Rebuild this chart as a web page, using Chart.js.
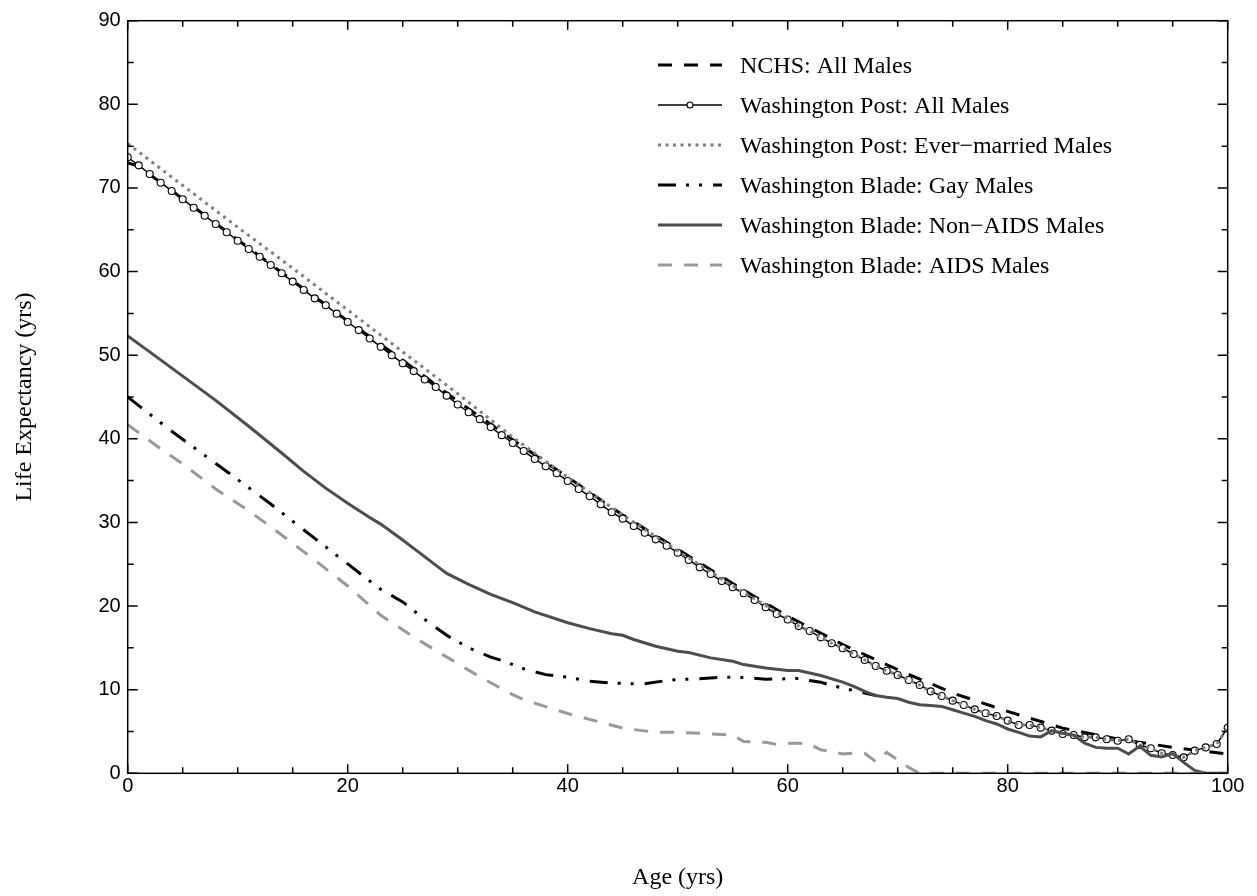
<!DOCTYPE html>
<html>
<head>
<meta charset="utf-8">
<script src="https://cdn.jsdelivr.net/npm/chart.js@4.4.1/dist/chart.umd.min.js"></script>
<style>
  html, body { margin: 0; padding: 0; background: #ffffff; }
  canvas { display: block; }
</style>
</head>
<body>
<canvas id="chart" width="1257" height="896"></canvas>
<script>
// ---- Life expectancy by age (years) ----

// NCHS life table, all males
const nchsAges  = [0, 1, 5, 10, 15, 20, 25, 30, 35, 40, 45, 50, 55, 60, 65, 70, 75, 80, 85, 90, 95, 100];
const nchsMales = [73.0, 72.6, 68.7, 63.8, 58.9, 54.1, 49.4, 44.5, 39.9, 35.4, 30.9, 26.8, 22.7, 18.8, 15.4, 12.4, 9.6, 7.4, 5.4, 4.1, 3.1, 2.3];

// Washington Post, all males (one value per year of age)
const wpAges = [0,1,2,3,4,5,6,7,8,9,10,11,12,13,14,15,16,17,18,19,20,21,22,23,24,25,26,27,28,29,30,31,32,33,34,35,36,37,38,39,40,41,42,43,44,45,46,47,48,49,50,51,52,53,54,55,56,57,58,59,60,61,62,63,64,65,66,67,68,69,70,71,72,73,74,75,76,77,78,79,80,81,82,83,84,85,86,87,88,89,90,91,92,93,94,95,96,97,98,99,100];
const wpAllMales = [
  73.67, 72.7, 71.67, 70.63, 69.64, 68.64, 67.64, 66.68, 65.69, 64.7,
  63.69, 62.7, 61.78, 60.79, 59.79, 58.8, 57.8, 56.8, 55.97, 54.97,
  53.97, 53.0, 52.0, 51.0, 50.0, 49.03, 48.1, 47.1, 46.2, 45.16,
  44.1, 43.17, 42.35, 41.4, 40.44, 39.5, 38.54, 37.59, 36.71, 35.88,
  34.96, 34.0, 33.13, 32.17, 31.21, 30.45, 29.58, 28.77, 27.98, 27.22,
  26.38, 25.51, 24.63, 23.83, 23.0, 22.24, 21.53, 20.73, 19.85, 19.05,
  18.4, 17.6, 17.02, 16.26, 15.55, 14.95, 14.27, 13.55, 12.83, 12.27,
  11.76, 11.16, 10.56, 9.8, 9.25, 8.69, 8.17, 7.65, 7.18, 6.85,
  6.3, 5.78, 5.78, 5.46, 5.1, 4.7, 4.58, 4.3, 4.3, 4.07,
  3.9, 4.07, 3.39, 2.99, 2.39, 2.19, 1.91, 2.71, 3.1, 3.5, 5.45
];

// Washington Post, ever-married males
const marriedAges  = [0, 5, 10, 15, 20, 25, 30, 35, 40, 45, 50, 55, 60, 61, 62, 63, 64, 65, 66, 67, 68, 69, 70, 71, 72, 73, 74, 75, 76, 77, 78, 79, 80, 81, 82, 83, 84, 85, 86, 87, 88, 89, 90, 91, 92, 93, 94, 95, 96, 97, 98, 99, 100];
const marriedMales = [75.3, 70.3, 65.3, 60.4, 55.4, 50.4, 45.4, 40.2, 35.4, 30.9, 26.6, 22.4, 18.5, 17.6, 17.02, 16.26, 15.55, 14.95, 14.27, 13.55, 12.83, 12.27, 11.76, 11.16, 10.56, 9.8, 9.25, 8.69, 8.17, 7.65, 7.18, 6.85, 6.3, 5.78, 5.78, 5.46, 5.1, 4.7, 4.58, 4.3, 4.3, 4.07, 3.9, 4.07, 3.39, 2.99, 2.39, 2.19, 1.91, 2.71, 3.1, 3.5, 5.45];

// Washington Blade, gay males
const gayAges  = [0, 4, 9, 13, 17, 22, 23, 25, 27, 29, 31, 33, 34, 36, 38, 40, 42, 44, 46, 47, 49, 50, 52, 54, 56, 58, 60, 61, 62, 63, 64, 65, 66, 67, 68];
const gayMales = [45.0, 40.9, 36.1, 32.2, 28.1, 23.0, 22.0, 20.5, 18.4, 16.5, 15.0, 13.9, 13.5, 12.5, 11.8, 11.5, 11.0, 10.8, 10.7, 10.7, 11.1, 11.2, 11.3, 11.5, 11.45, 11.25, 11.3, 11.35, 11.1, 10.9, 10.5, 10.2, 9.9, 9.6, 9.3];

// Washington Blade, non-AIDS males
const nonAidsAges  = [0, 2, 5, 8, 11, 14, 16, 18, 20, 22, 23, 25, 26, 28, 29, 31, 33, 35, 37, 40, 42, 44, 45, 46, 48, 50, 51, 53, 55, 56, 58, 60, 61, 62, 63, 65, 66, 67, 68, 69, 70, 71, 72, 73, 74, 75, 76, 77, 78, 79, 80, 81, 82, 83, 84, 85, 86, 87, 88, 89, 90, 91, 92, 93, 94, 95, 96, 97, 98, 99, 100];
const nonAidsMales = [52.3, 50.4, 47.5, 44.6, 41.5, 38.3, 36.1, 34.1, 32.3, 30.6, 29.8, 27.9, 26.9, 24.9, 23.9, 22.6, 21.4, 20.4, 19.3, 18.0, 17.3, 16.7, 16.5, 16.0, 15.2, 14.6, 14.45, 13.8, 13.4, 13.0, 12.6, 12.3, 12.3, 12.0, 11.7, 10.9, 10.4, 9.8, 9.3, 9.1, 8.95, 8.5, 8.2, 8.1, 8.0, 7.6, 7.2, 6.8, 6.3, 5.9, 5.3, 4.9, 4.45, 4.35, 5.1, 4.8, 4.55, 3.6, 3.1, 3.0, 3.0, 2.3, 3.25, 2.15, 1.95, 2.35, 1.3, 0.35, 0, 0, 0];

// Washington Blade, AIDS males
const aidsAges  = [0, 3, 5, 8, 11, 14, 17, 20, 23, 26, 29, 32, 34, 35, 36, 38, 40, 42, 45, 48, 50, 52, 55, 56, 57, 58, 59, 60, 61, 62, 63, 64, 65, 66, 67, 68, 69, 70, 71, 72, 100];
const aidsMales = [41.7, 38.8, 37.0, 34.0, 31.4, 28.5, 25.5, 22.4, 18.9, 16.3, 13.9, 11.55, 10.1, 9.4, 8.8, 7.97, 7.15, 6.45, 5.4, 4.9, 4.9, 4.8, 4.55, 3.8, 3.75, 3.7, 3.45, 3.6, 3.6, 3.5, 2.8, 2.6, 2.3, 2.4, 2.4, 1.4, 2.5, 1.6, 0.7, 0, 0];

// Axis ranges and labelled ticks
const xRange = [0, 100];
const yRange = [0, 90];
const xTickStep = 20;
const yTickStep = 10;

// ---- Styling ----
const SERIF = "'Liberation Serif', 'Times New Roman', serif";
const SANS  = "'Liberation Sans', Arial, sans-serif";

function pts(xs, ys) { return xs.map((x, i) => ({ x: x, y: ys[i] })); }

const datasets = [
  { label: 'NCHS: All Males', data: pts(nchsAges, nchsMales),
    borderColor: '#000000', borderWidth: 3, borderDash: [14, 12], pointRadius: 0, order: 6 },
  { label: 'Washington Post: All Males', data: pts(wpAges, wpAllMales),
    borderColor: '#000000', borderWidth: 1.5, pointRadius: 3.5, pointBorderWidth: 1.1,
    pointBackgroundColor: '#ffffff', pointBorderColor: '#000000', order: 5 },
  { label: 'Washington Post: Ever\u2212married Males', data: pts(marriedAges, marriedMales),
    borderColor: '#7f7f7f', borderWidth: 3, borderDash: [3, 4.5], pointRadius: 0, order: 4 },
  { label: 'Washington Blade: Gay Males', data: pts(gayAges, gayMales),
    borderColor: '#000000', borderWidth: 3, borderDash: [18, 10, 3, 10, 3, 11], pointRadius: 0, order: 3 },
  { label: 'Washington Blade: Non\u2212AIDS Males', data: pts(nonAidsAges, nonAidsMales),
    borderColor: '#4d4d4d', borderWidth: 3, pointRadius: 0, order: 2 },
  { label: 'Washington Blade: AIDS Males', data: pts(aidsAges, aidsMales),
    borderColor: '#999999', borderWidth: 3, borderDash: [14, 12], pointRadius: 0, order: 1 }
];
datasets.forEach(d => { d.fill = false; d.tension = 0; d.borderCapStyle = 'butt'; d.borderJoinStyle = 'miter'; d.pointHoverRadius = 0; });

// Closed frame with inward tick marks on all four sides
const framePlugin = {
  id: 'frame',
  afterDatasetsDraw(chart) {
    const { ctx, chartArea: a, scales: { x, y } } = chart;
    ctx.save();
    ctx.strokeStyle = '#000000';
    ctx.lineWidth = 1.5;
    ctx.lineCap = 'butt';
    ctx.strokeRect(a.left, a.top, a.right - a.left, a.bottom - a.top);
    ctx.beginPath();
    for (let v = xRange[0]; v <= xRange[1]; v += 5) {
      const px = x.getPixelForValue(v);
      const len = v % xTickStep === 0 ? 9 : 6;
      ctx.moveTo(px, a.bottom); ctx.lineTo(px, a.bottom - len);
      ctx.moveTo(px, a.top);    ctx.lineTo(px, a.top + len);
    }
    for (let v = yRange[0]; v <= yRange[1]; v += 5) {
      const py = y.getPixelForValue(v);
      const len = v % yTickStep === 0 ? 10 : 6;
      ctx.moveTo(a.left, py);  ctx.lineTo(a.left + len, py);
      ctx.moveTo(a.right, py); ctx.lineTo(a.right - len, py);
    }
    ctx.stroke();
    ctx.restore();
  }
};

// Key in the upper right of the plotting area, using each dataset's own line style
const keyPlugin = {
  id: 'key',
  afterDraw(chart) {
    const { ctx } = chart;
    const x0 = 658, x1 = 722, textX = 740, rowY = 65, rowGap = 40;
    ctx.save();
    ctx.font = '24px ' + SERIF;
    ctx.textBaseline = 'alphabetic';
    ctx.textAlign = 'left';
    chart.data.datasets.forEach((d, i) => {
      const yy = rowY + i * rowGap;
      ctx.strokeStyle = d.borderColor;
      ctx.lineWidth = d.borderWidth;
      ctx.lineCap = 'butt';
      ctx.setLineDash(d.borderDash || []);
      ctx.beginPath();
      ctx.moveTo(x0, yy); ctx.lineTo(x1, yy);
      ctx.stroke();
      ctx.setLineDash([]);
      if (d.pointRadius) {
        ctx.beginPath();
        ctx.arc((x0 + x1) / 2, yy, d.pointRadius * 0.85, 0, Math.PI * 2);
        ctx.fillStyle = d.pointBackgroundColor;
        ctx.fill();
        ctx.lineWidth = d.pointBorderWidth;
        ctx.strokeStyle = d.pointBorderColor;
        ctx.stroke();
      }
      ctx.fillStyle = '#000000';
      ctx.fillText(d.label, textX, yy + 8);
    });
    ctx.restore();
  }
};

new Chart(document.getElementById('chart'), {
  type: 'line',
  data: { datasets: datasets },
  plugins: [framePlugin, keyPlugin],
  options: {
    responsive: false,
    devicePixelRatio: 1,
    animation: false,
    events: [],
    layout: { padding: { left: 0, right: 29.3, top: 20.7, bottom: 0 } },
    plugins: { legend: { display: false }, tooltip: { enabled: false } },
    scales: {
      x: {
        type: 'linear', min: xRange[0], max: xRange[1],
        grid: { display: false, drawTicks: false },
        border: { display: false },
        ticks: { stepSize: xTickStep, padding: 1, maxRotation: 0, color: '#000000',
                 font: { family: SANS, size: 20 } },
        title: { display: true, text: 'Age (yrs)', color: '#000000',
                 font: { family: SERIF, size: 24 }, padding: { top: 0, bottom: 3.6 } },
        afterFit(scale) { scale.height = 896 - 773.3; }
      },
      y: {
        type: 'linear', min: yRange[0], max: yRange[1],
        grid: { display: false, drawTicks: false },
        border: { display: false },
        ticks: { stepSize: yTickStep, padding: 7, color: '#000000',
                 font: { family: SANS, size: 20 } },
        title: { display: true, text: 'Life Expectancy (yrs)', color: '#000000',
                 font: { family: SERIF, size: 24 }, padding: { top: 10.6, bottom: 0 } },
        afterFit(scale) { scale.width = 127.7; }
      }
    }
  }
});
</script>
</body>
</html>
